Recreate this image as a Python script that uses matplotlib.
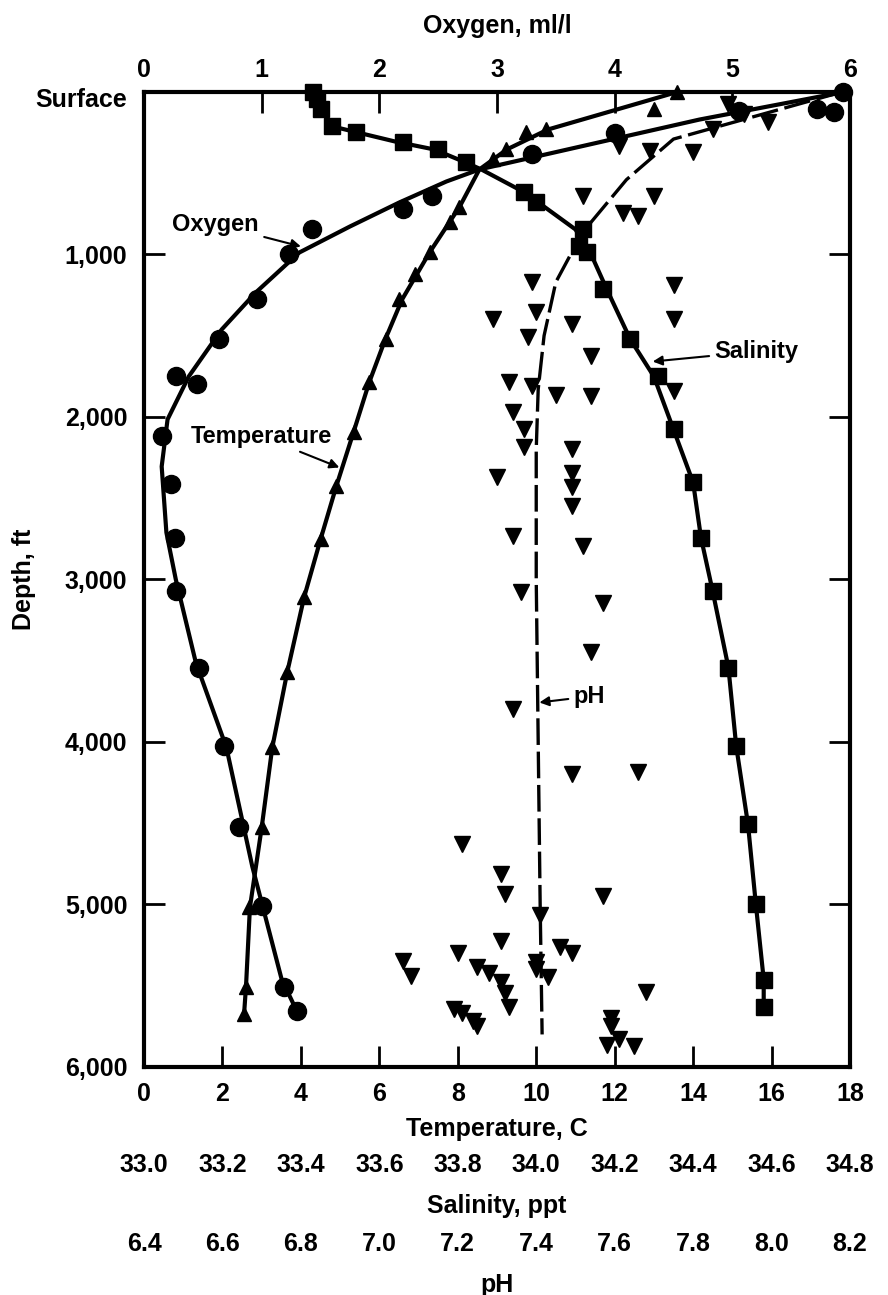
import matplotlib.pyplot as plt
from matplotlib.transforms import ScaledTranslation

plt.rcParams['font.family'] = ['Liberation Sans', 'DejaVu Sans']
plt.rcParams['font.weight'] = 'bold'
plt.rcParams['axes.labelweight'] = 'bold'

# ---- data (depth in ft) ----
# oxygen, ml/l
oxy_depth = [0, 108, 126, 120, 250, 380, 643, 723, 846, 1000, 1277, 1523, 1751, 1800,
             2120, 2415, 2742, 3074, 3542, 4028, 4526, 5012, 5511, 5658]
oxy = [5.94, 5.72, 5.86, 5.06, 4.0, 3.3, 2.45, 2.20, 1.43, 1.23, 0.96, 0.64, 0.27, 0.45,
       0.15, 0.23, 0.26, 0.27, 0.47, 0.68, 0.81, 1.0, 1.19, 1.30]
oxy_curve_depth = [0, 170, 477, 551, 680, 828, 988, 1234, 1462, 1751, 2015, 2305, 2711,
                   3000, 3511, 4034, 4766, 5462, 5658]
oxy_curve = [5.95, 4.72, 2.85, 2.57, 2.17, 1.75, 1.32, 0.95, 0.66, 0.38, 0.20, 0.15, 0.19,
             0.27, 0.44, 0.70, 0.92, 1.17, 1.30]

# temperature, C
temp_depth = [0, 108, 231, 249, 354, 415, 705, 803, 988, 1123, 1277, 1523, 1788, 2095,
              2428, 2754, 3111, 3572, 4034, 4526, 5018, 5505, 5677]
temp = [13.6, 13.0, 10.26, 9.75, 9.24, 8.9, 8.04, 7.79, 7.28, 6.9, 6.5, 6.18, 5.74, 5.36,
        4.90, 4.52, 4.08, 3.65, 3.27, 3.01, 2.68, 2.60, 2.55]
temp_curve_depth = [0, 231, 354, 477, 705, 988, 1277, 1523, 1788, 2095, 2428, 2754, 3111,
                    3572, 4034, 4526, 5018, 5505, 5677]
temp_curve = [13.6, 10.3, 9.25, 8.55, 8.05, 7.28, 6.58, 6.15, 5.74, 5.34, 4.90, 4.50,
              4.08, 3.65, 3.27, 3.0, 2.70, 2.6, 2.55]

# salinity, ppt
sal_depth = [0, 46, 108, 212, 249, 305, 354, 434, 618, 680, 846, 951, 988, 1215, 1523,
             1751, 2077, 2403, 2742, 3074, 3542, 4028, 4508, 5000, 5462, 5634]
sal = [33.43, 33.44, 33.45, 33.48, 33.54, 33.66, 33.75, 33.82, 33.97, 34.00, 34.12, 34.11,
       34.13, 34.17, 34.24, 34.31, 34.35, 34.40, 34.42, 34.45, 34.49, 34.51, 34.54, 34.56,
       34.58, 34.58]
sal_curve_depth = [0, 108, 212, 305, 354, 434, 477, 618, 846, 1000, 1215, 1523, 1751,
                   2077, 2403, 2742, 3074, 3542, 4028, 4508, 5000, 5462, 5634]
sal_curve = [33.43, 33.45, 33.48, 33.64, 33.74, 33.82, 33.86, 33.97, 34.10, 34.14, 34.18,
             34.24, 34.30, 34.35, 34.40, 34.42, 34.45, 34.49, 34.51, 34.54, 34.56, 34.58,
             34.58]

# pH
ph_depth = [335, 366, 372, 188, 231, 643, 742, 766, 643, 1172, 1185, 1400, 1357, 1431,
            1400, 1505, 1628, 1788, 1812, 1862, 1874, 1843, 1972, 2077, 2182, 2200, 2372,
            2342, 2434, 2551, 2735, 2797, 3080, 3142, 3449, 3800, 4200, 4188, 4631, 4815,
            4938, 4951, 5062, 5228, 5296, 5259, 5296, 5382, 5419, 5480, 5542, 5628, 5357,
            5400, 5449, 5646, 5665, 5720, 5751, 5696, 5751, 5831, 5862, 5874, 5536, 5351,
            5443, 77, 138]
ph = [7.61, 7.69, 7.80, 7.99, 7.85, 7.52, 7.62, 7.66, 7.70, 7.39, 7.75, 7.29, 7.40, 7.49,
      7.75, 7.38, 7.54, 7.33, 7.39, 7.45, 7.54, 7.75, 7.34, 7.37, 7.37, 7.49, 7.30, 7.49,
      7.49, 7.49, 7.34, 7.52, 7.36, 7.57, 7.54, 7.34, 7.49, 7.66, 7.21, 7.31, 7.32, 7.57,
      7.41, 7.31, 7.20, 7.46, 7.49, 7.25, 7.28, 7.31, 7.32, 7.33, 7.40, 7.40, 7.43, 7.19,
      7.21, 7.24, 7.25, 7.59, 7.59, 7.61, 7.58, 7.65, 7.68, 7.06, 7.08, 7.89, 7.93]
ph_curve_depth = [0, 290, 540, 830, 990, 1170, 1500, 1830, 2200, 3000, 4000, 5000, 5800]
ph_curve = [8.18, 7.75, 7.63, 7.53, 7.49, 7.45, 7.42, 7.405, 7.40, 7.40, 7.405, 7.41, 7.415]

temp_ticks = list(range(0, 19, 2))
oxy_ticks = list(range(0, 7))
sal_ticks = [33.0, 33.2, 33.4, 33.6, 33.8, 34.0, 34.2, 34.4, 34.6, 34.8]
ph_ticks = [6.4, 6.6, 6.8, 7.0, 7.2, 7.4, 7.6, 7.8, 8.0, 8.2]
depth_ticks = [0, 1000, 2000, 3000, 4000, 5000, 6000]
depth_labels = ['Surface', '1,000', '2,000', '3,000', '4,000', '5,000', '6,000']

FS = 18
LW = 3.0

fig = plt.figure(figsize=(8.88, 12.95), dpi=100)
ax = fig.add_axes([0.1622, 0.1761, 0.795, 0.7529])
ax.set_xlim(0, 18)
ax.set_ylim(6000, 0)
ax.set_xticks(temp_ticks)
ax.set_yticks(depth_ticks)
ax.set_yticklabels(depth_labels)
ax.tick_params(direction='in', length=15, width=2, labelsize=FS)
ax.tick_params(axis='x', pad=11)
ax.tick_params(axis='y', pad=12, right=True, labelright=False)
for sp in ax.spines.values():
    sp.set_linewidth(3)
ax.set_xlabel('Temperature, C', fontsize=FS, labelpad=8)
ax.set_ylabel('Depth, ft', fontsize=FS, labelpad=0)

# "Surface" sits a little below the top line
surf = ax.get_yticklabels()[0]
surf.set_transform(surf.get_transform() + ScaledTranslation(0, -0.06, fig.dpi_scale_trans))

# oxygen on top
ax_o = ax.twiny()
ax_o.set_xlim(0, 6)
ax_o.set_xticks(oxy_ticks)
ax_o.tick_params(direction='in', length=15, width=2, labelsize=FS, pad=7)
ax_o.set_xlabel('Oxygen, ml/l', fontsize=FS, labelpad=18)
for sp in ax_o.spines.values():
    sp.set_visible(False)

# salinity and pH scales below
def extra_axis(lims, ticks, label, offset):
    a = ax.twiny()
    a.set_xlim(*lims)
    a.set_xticks(ticks)
    a.set_xticklabels(['%.1f' % t for t in ticks])
    a.xaxis.set_ticks_position('bottom')
    a.xaxis.set_label_position('bottom')
    a.spines['bottom'].set_position(('outward', offset))
    for sp in a.spines.values():
        sp.set_visible(False)
    a.tick_params(axis='x', length=0, pad=0, labelsize=FS)
    a.set_xlabel(label, fontsize=FS, labelpad=12)
    return a

ax_s = extra_axis((33.0, 34.8), sal_ticks, 'Salinity, ppt', 62)
ax_p = extra_axis((6.4, 8.2), ph_ticks, 'pH', 119)

# curves
ax_o.plot(oxy_curve, oxy_curve_depth, color='black', lw=LW, zorder=3)
ax.plot(temp_curve, temp_curve_depth, color='black', lw=LW, zorder=3)
ax_s.plot(sal_curve, sal_curve_depth, color='black', lw=LW, zorder=3)
ax_p.plot(ph_curve, ph_curve_depth, color='black', lw=2.4, dashes=(8, 2), zorder=3)

# observations
ax_o.plot(oxy, oxy_depth, 'o', color='black', ms=13, zorder=4, clip_on=False)
ax.plot(temp, temp_depth, '^', color='black', ms=10, zorder=4, clip_on=False)
ax_s.plot(sal, sal_depth, 's', color='black', ms=12, zorder=4, clip_on=False)
ax_p.plot(ph, ph_depth, 'v', color='black', ms=12, zorder=4, clip_on=False)

# curve labels
arrow = dict(arrowstyle='-|>', color='black', lw=1.5, mutation_scale=14,
             shrinkA=2, shrinkB=0)
ax.annotate('Oxygen', xy=(4.0, 951), xytext=(1.82, 815), fontsize=FS - 1,
            ha='center', va='center', arrowprops=arrow)
ax.annotate('Temperature', xy=(4.98, 2311), xytext=(3.0, 2120), fontsize=FS - 1,
            ha='center', va='center', arrowprops=arrow)
ax.annotate('Salinity', xy=(12.97, 1659), xytext=(15.62, 1597), fontsize=FS - 1,
            ha='center', va='center', arrowprops=arrow)
ax.annotate('pH', xy=(10.08, 3757), xytext=(11.36, 3720), fontsize=FS - 1,
            ha='center', va='center', arrowprops=arrow)

fig.savefig('out.png', dpi=100, facecolor='white')
